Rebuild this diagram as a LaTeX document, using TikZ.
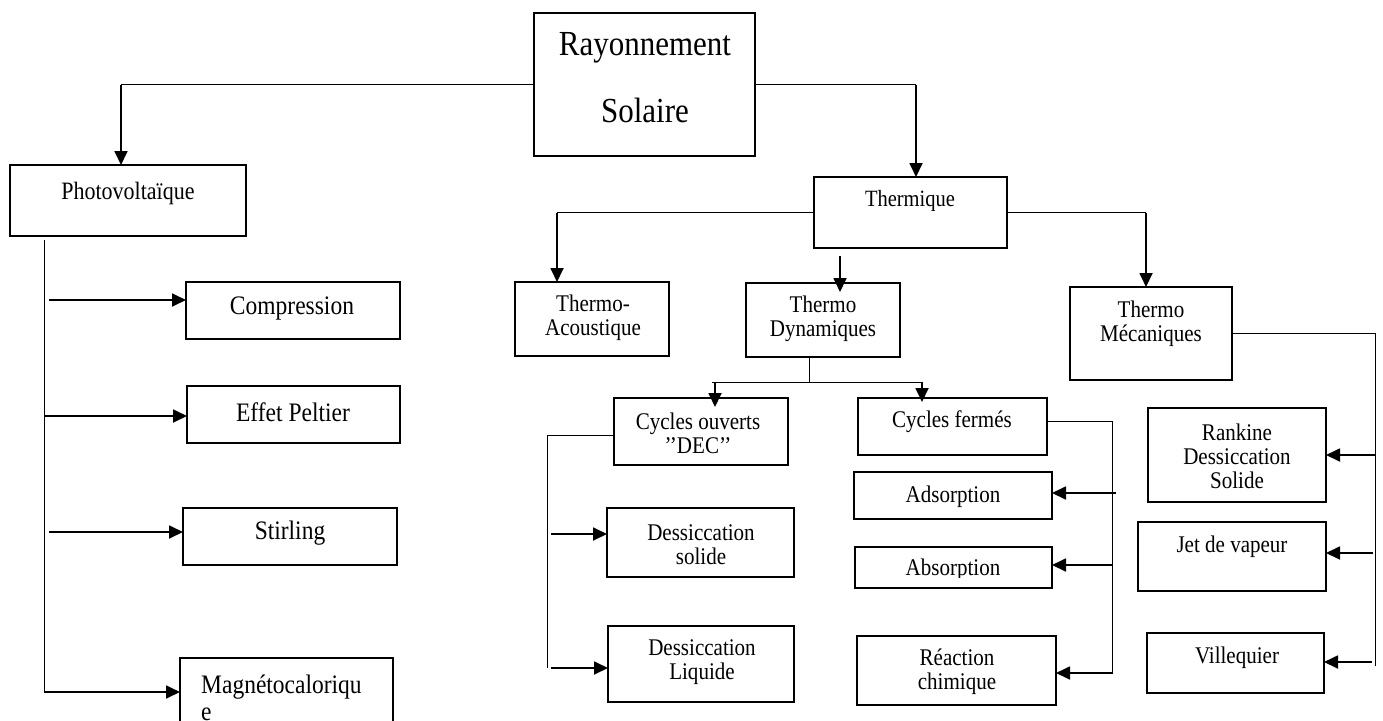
\documentclass[tikz,border=0pt]{standalone}
\usepackage{fontspec}
\setmainfont[FakeStretch=0.88]{Liberation Serif}
\usetikzlibrary{arrows.meta}
\newcommand{\mkbox}[5]{\node[box,minimum width={(#4)-(#2)},minimum height={(#5)-(#3)}] (#1) at ({((#2)+(#4))/2},{((#3)+(#5))/2}) {};}
\begin{document}
\begin{tikzpicture}[x=1pt,y=-1pt,
  box/.style={draw, line width=1.8pt, inner sep=0pt, outer sep=0pt, rectangle},
  lbl/.style={inner sep=0pt, align=center, font=\fontsize{23.9}{24}\selectfont},
  lblL/.style={lbl, font=\fontsize{26.7}{27}\selectfont},
  lblB/.style={lbl, font=\fontsize{35.2}{36}\selectfont},
  thinl/.style={line width=1pt},
  arr/.style={line width=1.8pt, -{Triangle[length=14pt,width=13pt]}},
]
\clip (0,0) rectangle (1383,720);
\fill[white] (0,0) rectangle (1383,720);

% boxes
\mkbox{ray}{534}{13}{755}{156}
\mkbox{pv}{10}{165}{246}{236}
\mkbox{th}{814}{177}{1007}{248}
\mkbox{comp}{186}{282}{400}{339}
\mkbox{pel}{187}{386}{400}{443}
\mkbox{stir}{183}{508}{397}{565}
\mkbox{mag}{180}{658}{393}{740}
\mkbox{tac}{515}{282}{669}{356}
\mkbox{tdyn}{746}{283}{900}{357}
\mkbox{tmec}{1070}{287}{1232}{380}
\mkbox{co}{614}{398}{788}{465}
\mkbox{cf}{858}{398}{1047}{455}
\mkbox{ds}{607}{508}{794}{577}
\mkbox{dl}{608}{626}{794}{702}
\mkbox{ads}{854}{472}{1052}{519}
\mkbox{abs}{855}{547}{1052}{588}
\mkbox{rc}{857}{636}{1056}{705}
\mkbox{rk}{1148}{408}{1326}{502}
\mkbox{jv}{1138}{522}{1326}{591}
\mkbox{vq}{1147}{633}{1324}{693}

% labels
\node[lblB] (ray-t1) at (645,48) {Rayonnement};
\node[lblB] (ray-t2) at (645,110) {Solaire};
\node[lbl, font=\fontsize{25}{26}\selectfont] (pv-t) at (128,193) {Photovoltaïque};
\node[lbl, font=\fontsize{23.3}{24}\selectfont] (th-t) at (910,201) {Thermique};
\node[lblL] (comp-t) at (292,308) {Compression};
\node[lblL] (pel-t) at (293,412) {Effet Peltier};
\node[lblL] (stir-t) at (290,533) {Stirling};
\node[lblL, align=left, anchor=north west] (mag-t) at (201,675) {Magnétocaloriqu\\e};
\node[lbl] (tac-t) at (593,318) {Thermo-\\Acoustique};
\node[lbl] (tdyn-t) at (823,319) {Thermo\\Dynamiques};
\node[lbl] (tmec-t) at (1151,324) {Thermo\\Mécaniques};
\node[lbl] (co-t) at (698,433) {Cycles ouverts\\’’DEC’’};
\node[lbl] (cf-t) at (952,422) {Cycles fermés};
\node[lbl] (ds-t) at (701,545) {Dessiccation\\solide};
\node[lbl] (dl-t) at (702,662) {Dessiccation\\Liquide};
\node[lbl] (ads-t) at (953,497) {Adsorption};
\begin{scope}
\clip (855,547) rectangle (1052,577);
\node[lbl] (abs-t) at (953,570) {Absorption};
\end{scope}
\node[lbl] (rc-t) at (957,672) {Réaction\\chimique};
\node[lbl] (rk-t) at (1237,456) {Rankine\\Dessiccation\\Solide};
\node[lbl] (jv-t) at (1232,547) {Jet de vapeur};
\node[lbl] (vq-t) at (1237,658) {Villequier};

% top connectors
\coordinate (pvx) at (121,0);
\draw[thinl] (ray.west) -- (ray.west -| pvx);
\draw[arr] (ray.west -| pvx) -- (pvx |- pv.north);
\coordinate (thx) at (916,0);
\draw[thinl] (ray.east) -- (ray.east -| thx);
\draw[arr] (ray.east -| thx) -- (thx |- th.north);

% photovoltaique branch
\coordinate (trT) at (44,240);
\coordinate (trB) at (44,692);
\draw[thinl] (trT) -- (trB);
\coordinate (p1) at (49,300);
\coordinate (p2) at (44,416);
\coordinate (p3) at (49,532);
\draw[arr] (p1) -- (comp.west |- p1);
\draw[arr] (p2) -- (pel.west |- p2);
\draw[arr] (p3) -- (stir.west |- p3);
\draw[arr] (trB) -- (mag.west |- trB);

% thermique branch
\coordinate (tacx) at (557,0);
\draw[thinl] (th.west) -- (th.west -| tacx);
\draw[arr] (th.west -| tacx) -- (tacx |- tac.north);
\coordinate (tmx) at (1146,0);
\draw[thinl] (th.east) -- (th.east -| tmx);
\draw[arr] (th.east -| tmx) -- (tmx |- tmec.north);
\coordinate (tdA) at (840,256);
\path ([yshift=-9pt]tdyn.north) coordinate (tdin);
\draw[arr] (tdA) -- (tdA |- tdin);

% thermo dynamiques split
\coordinate (sp) at (809,382);
\coordinate (spL) at (715,382);
\coordinate (spR) at (922,382);
\draw[thinl] (tdyn.south -| sp) -- (sp);
\draw[thinl] ([xshift=-3pt]spL) -- (spR);
\path ([yshift=-9pt]co.north) coordinate (coin);
\path ([yshift=-4pt]cf.north) coordinate (cfin);
\draw[arr] (spL) -- (spL |- coin);
\draw[arr] (spR) -- (spR |- cfin);

% cycles ouverts branch
\coordinate (coA) at (547,435);
\coordinate (coB) at (547,668);
\draw[thinl] (co.west |- coA) -- (coA) -- (coB);
\coordinate (d1) at (551,534);
\coordinate (d2) at (551,668);
\draw[arr] (d1) -- (ds.west |- d1);
\draw[arr] (d2) -- (dl.west |- d2);

% cycles fermes branch
\coordinate (cfA) at (1112,421);
\coordinate (cfB) at (1112,674);
\draw[thinl] (cf.east |- cfA) -- (cfA) -- (cfB);
\coordinate (f1) at (1116,493);
\coordinate (f2) at (1112,565);
\coordinate (f3) at (1112,673);
\draw[arr] (f1) -- (ads.east |- f1);
\draw[arr] (f2) -- (abs.east |- f2);
\draw[arr] (f3) -- (rc.east |- f3);

% thermo mecaniques branch
\coordinate (tmr) at (1375,0);
\coordinate (tmB) at (1375,666);
\draw[thinl] (tmec.east) -- (tmec.east -| tmr) -- (tmB);
\coordinate (m1) at (1375,455);
\coordinate (m2) at (1373,553);
\coordinate (m3) at (1372,662);
\draw[arr] (m1) -- (rk.east |- m1);
\draw[arr] (m2) -- (jv.east |- m2);
\draw[arr] (m3) -- (vq.east |- m3);
\end{tikzpicture}
\end{document}
